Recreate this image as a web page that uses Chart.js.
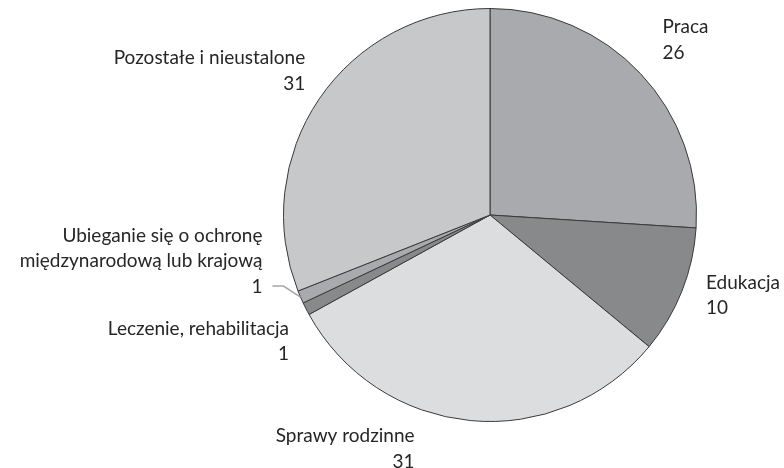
<!DOCTYPE html>
<html>
<head>
<meta charset="utf-8">
<script src="https://cdn.jsdelivr.net/npm/chart.js@4"></script>
<style>
    html, body { margin: 0; padding: 0; background: #ffffff; }
    canvas { display: block; }
</style>
</head>
<body>
<canvas id="pieChart" width="784" height="468"></canvas>
<script>
const categories = [
    ['Praca'],
    ['Edukacja'],
    ['Sprawy rodzinne'],
    ['Leczenie, rehabilitacja'],
    ['Ubieganie się o ochronę', 'międzynarodową lub krajową'],
    ['Pozostałe i nieustalone']
];
const values = [26, 10, 31, 1, 1, 31];
const sliceColors = ['#a9aaad', '#88898b', '#dcdddf', '#88898b', '#a9aaad', '#c7c8ca'];

// gdzie stoi podpis wzgledem srodka luku (dx, dy od punktu na obwodzie, dy = linia bazowa)
const labelLayout = [
    { dx: 22, dy: -40.5, align: 'left' },
    { dx: 24, dy: -2.5, align: 'left' },
    { dx: -56, dy: 21.5, align: 'right' },
    { dx: -17, dy: 26, align: 'right' },
    { dx: -38, dy: -55.5, align: 'right', leader: true },
    { dx: -14, dy: -34.5, align: 'right' }
];

const pieLabelsPlugin = {
    id: 'pieLabels',
    afterDraw: function (chart) {
        const ctx = chart.ctx;
        const arcs = chart.getDatasetMeta(0).data;
        const lineHeight = 25.5;
        ctx.save();
        ctx.font = '19px Lato';
        ctx.fillStyle = '#262626';
        ctx.textBaseline = 'alphabetic';
        arcs.forEach((arc, i) => {
            const p = arc.getProps(['x', 'y', 'startAngle', 'endAngle', 'outerRadius'], true);
            const mid = (p.startAngle + p.endAngle) / 2;
            const ex = p.x + Math.cos(mid) * p.outerRadius;
            const ey = p.y + Math.sin(mid) * p.outerRadius;
            const lay = labelLayout[i];
            const tx = ex + lay.dx;
            const ty = ey + lay.dy;
            const lines = categories[i].concat([String(values[i])]);
            ctx.textAlign = lay.align;
            lines.forEach((line, k) => {
                ctx.fillText(line, tx, ty + k * lineHeight);
            });
            if (lay.leader) {
                // linia odniesienia do waskiego wycinka
                const ly = ty + (lines.length - 1) * lineHeight - 6.5;
                ctx.strokeStyle = '#a6a6a6';
                ctx.lineWidth = 1.5;
                ctx.beginPath();
                ctx.moveTo(ex, ey);
                ctx.lineTo(tx + 21, ly);
                ctx.lineTo(tx + 10, ly);
                ctx.stroke();
            }
        });
        ctx.restore();
    }
};

const ctx = document.getElementById('pieChart').getContext('2d');
new Chart(ctx, {
    type: 'pie',
    data: {
        labels: categories.map(c => c.join(' ')),
        datasets: [{
            data: values,
            backgroundColor: sliceColors,
            borderColor: '#3a3a3a',
            borderWidth: 1
        }]
    },
    options: {
        responsive: false,
        animation: false,
        layout: {
            padding: { top: 8, bottom: 46, left: 283, right: 87 }
        },
        plugins: {
            legend: { display: false },
            tooltip: { enabled: false }
        }
    },
    plugins: [pieLabelsPlugin]
});
</script>
</body>
</html>
